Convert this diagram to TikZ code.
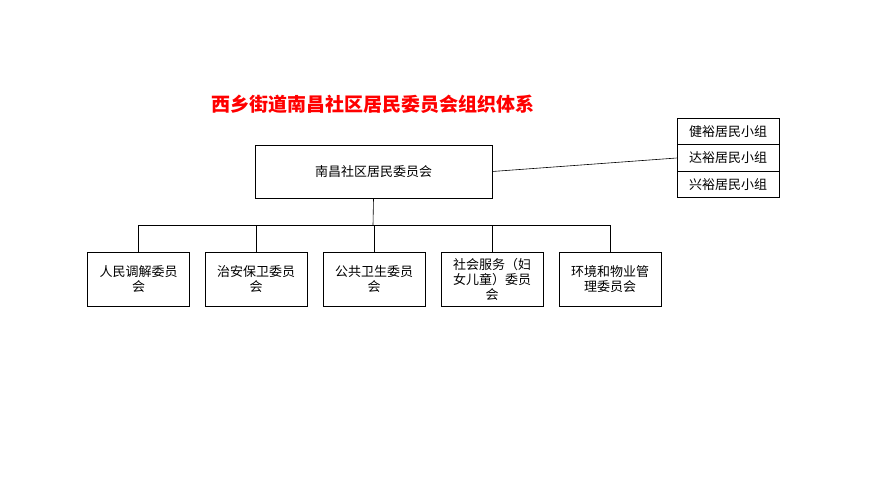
\documentclass[tikz,border=0pt]{standalone}
\usepackage{fontspec}
\newfontfamily\cjk{Noto Sans CJK SC}
\usetikzlibrary{positioning}
\tikzset{
    unitbox/.style={draw, line width=0.6pt, align=center, inner sep=1pt, font=\cjk\fontsize{13}{15}\selectfont},
    link/.style={draw, line width=0.6pt}
}
\begin{document}
\begin{tikzpicture}[x=1pt,y=-1pt]
    \useasboundingbox (0,0) rectangle (869,489);
    % Title
    \node[text=red, font=\cjk\bfseries\fontsize{19}{22}\selectfont] (title) at (373,104) {西乡街道南昌社区居民委员会组织体系};

    % Main committee
    \node[unitbox, minimum width=237pt, minimum height=53pt] (main) at (373.5,171.5) {南昌社区居民委员会};

    % Resident groups
    \foreach \name/\txt/\y in {g1/健裕居民小组/131.5, g2/达裕居民小组/158, g3/兴裕居民小组/184.5}
        \node[unitbox, minimum width=102pt, minimum height=26.5pt] (\name) at (728,\y) {\txt};
    \draw[link] (main.east) -- (g2.west);

    % Sub committees
    \foreach \name/\txt/\x in {c1/人民调解委员\\会/138.5, c2/治安保卫委员\\会/256, c3/公共卫生委员\\会/374, c4/社会服务（妇\\女儿童）委员\\会/492, c5/环境和物业管\\理委员会/610}
        \node[unitbox, minimum width=102pt, minimum height=54pt, text width=96pt] (\name) at (\x,279) {\txt};

    \coordinate (bus) at (373,225);
    \draw[link] (main.south) -- (bus);
    \draw[link] (c1.north |- bus) -- (c5.north |- bus);
    \foreach \name in {c1,c2,c3,c4,c5}
        \draw[link] (\name.north |- bus) -- (\name.north);
\end{tikzpicture}
\end{document}
